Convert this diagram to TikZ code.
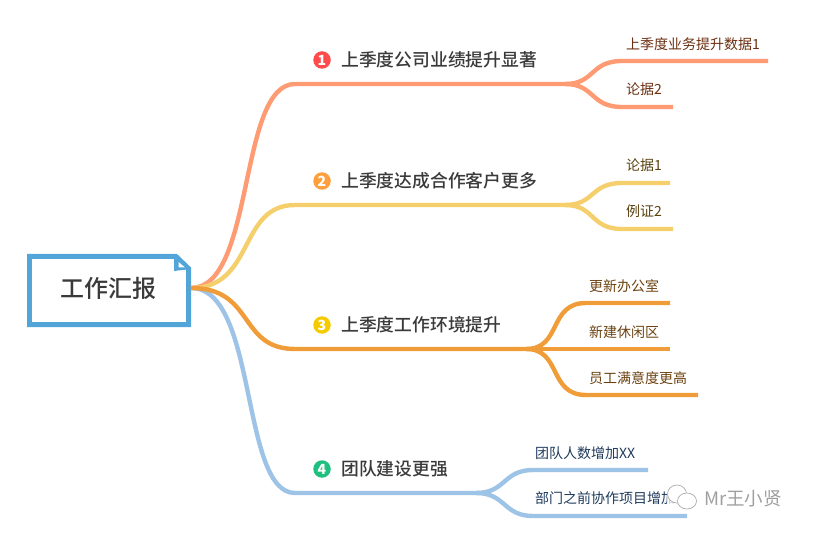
\documentclass[tikz,border=0pt]{standalone}
\usepackage{fontspec}
\setmainfont{Noto Sans CJK SC}
\newfontfamily\medfont{Noto Sans CJK SC Medium}
\usetikzlibrary{positioning}
\definecolor{cA}{HTML}{FF9B73}
\definecolor{cB}{HTML}{F5CF6B}
\definecolor{cC}{HTML}{F09C38}
\definecolor{cD}{HTML}{9DC3E6}
\definecolor{frameblue}{HTML}{52A5D8}
\definecolor{ink}{HTML}{3A3A3A}
\definecolor{leafA}{HTML}{6B2E10}
\definecolor{leafB}{HTML}{5A4210}
\definecolor{leafC}{HTML}{6B4210}
\definecolor{leafD}{HTML}{1F3A5C}
\definecolor{badgeA}{HTML}{FF4B4B}
\definecolor{badgeB}{HTML}{FF9F3B}
\definecolor{badgeC}{HTML}{F5CB00}
\definecolor{badgeD}{HTML}{1FBF7F}
\tikzset{
  x=1bp,y=-1bp,
  branch/.style={line width=4.4bp,line cap=butt},
  topiclabel/.style={font=\medfont\fontsize{17.8bp}{20bp}\selectfont,text=ink,anchor=west,inner sep=0pt},
  leaf/.style={font=\fontsize{14bp}{16bp}\selectfont,anchor=west,inner sep=0pt},
  badge/.style={circle,minimum size=17.5bp,inner sep=0pt,text=white,font=\fontsize{14bp}{14bp}\selectfont\bfseries},
}
\begin{document}
\begin{tikzpicture}
\useasboundingbox (0,0) rectangle (813,534);
% root
\draw[frameblue,line width=4.8bp,line join=miter] (29.4,256.4) -- (176,256.4) -- (188.6,268.5) -- (188.6,324.6) -- (29.4,324.6) -- cycle;
\node[minimum width=163bp,minimum height=73bp,inner sep=0pt,font=\medfont\fontsize{24bp}{26bp}\selectfont,text=ink] (root) at (108.5,288) {工作汇报};
\fill[frameblue] (174,254) -- (191,269) -- (174,271) -- cycle;
\fill[white] (178.5,262) -- (185,267.5) -- (178.5,267.5) -- cycle;
% anchors
\coordinate (s) at (191,288);
\coordinate (a) at (295,84);   \coordinate (af) at (565,84);
\coordinate (a1) at (622,61);  \coordinate (a1e) at (768,61);
\coordinate (a2) at (622,107); \coordinate (a2e) at (673,107);
\coordinate (b) at (295,205);  \coordinate (bf) at (565,205);
\coordinate (b1) at (622,183); \coordinate (b1e) at (670,183);
\coordinate (b2) at (622,229); \coordinate (b2e) at (673,229);
\coordinate (c) at (295,349);  \coordinate (cf) at (526,349);
\coordinate (c1) at (586,303); \coordinate (c1e) at (670,303);
\coordinate (c2e) at (670,349);
\coordinate (c3) at (586,395); \coordinate (c3e) at (698,395);
\coordinate (d) at (295,493);  \coordinate (df) at (476,493);
\coordinate (d1) at (533,470); \coordinate (d1e) at (648,470);
\coordinate (d2) at (533,516); \coordinate (d2e) at (687,516);
% branches
\draw[branch,cA] (s) .. controls (255,288) and (238,84) .. (a) -- (af);
\draw[branch,cA] (af) .. controls (595,84) and (590,61) .. (a1) -- (a1e);
\draw[branch,cA] (af) .. controls (595,84) and (590,107) .. (a2) -- (a2e);
\draw[branch,cB] (s) .. controls (255,288) and (238,205) .. (b) -- (bf);
\draw[branch,cB] (bf) .. controls (595,205) and (590,183) .. (b1) -- (b1e);
\draw[branch,cB] (bf) .. controls (595,205) and (590,229) .. (b2) -- (b2e);
\draw[branch,cD] (s) .. controls (258,288) and (240,493) .. (d) -- (df);
\draw[branch,cD] (df) .. controls (506,493) and (503,470) .. (d1) -- (d1e);
\draw[branch,cD] (df) .. controls (506,493) and (503,516) .. (d2) -- (d2e);
\draw[branch,cC] (s) .. controls (255,288) and (238,349) .. (c) -- (cf);
\draw[branch,cC] (cf) .. controls (562,349) and (548,303) .. (c1) -- (c1e);
\draw[branch,cC] (cf) -- (c2e);
\draw[branch,cC] (cf) .. controls (562,349) and (548,395) .. (c3) -- (c3e);
% badges
\node[badge,fill=badgeA] (n1) at (322,60) {1};
\node[badge,fill=badgeB] (n2) at (322,181) {2};
\node[badge,fill=badgeC] (n3) at (322,325) {3};
\node[badge,fill=badgeD] (n4) at (322,469) {4};
% labels
\node[topiclabel] (t1) at (341,60) {上季度公司业绩提升显著};
\node[topiclabel] (t2) at (341,181) {上季度达成合作客户更多};
\node[topiclabel] (t3) at (341,325) {上季度工作环境提升};
\node[topiclabel] (t4) at (341,469) {团队建设更强};
\node[leaf,text=leafA] (l1) at (626,44.5) {上季度业务提升数据1};
\node[leaf,text=leafA] (l2) at (626,89.5) {论据2};
\node[leaf,text=leafB] (l3) at (626,165.5) {论据1};
\node[leaf,text=leafB] (l4) at (626,211.5) {例证2};
\node[leaf,text=leafC] (l5) at (589,286.5) {更新办公室};
\node[leaf,text=leafC] (l6) at (589,332.5) {新建休闲区};
\node[leaf,text=leafC] (l7) at (589,378.5) {员工满意度更高};
\node[leaf,text=leafD] (l8) at (535,453.5) {团队人数增加XX};
\node[leaf,text=leafD] (l9) at (535,498.5) {部门之前协作项目增加};
% watermark
\fill[white,opacity=.8] (667,485) rectangle (697,511);
\draw[gray!65,line width=.7bp,fill=white] (677,494) ellipse (9.5 and 9);
\draw[gray!65,line width=.7bp,fill=white] (687,501) ellipse (9.5 and 8);
\node[font=\fontsize{18.5bp}{20bp}\selectfont,text=gray!75,anchor=west,inner sep=0pt] (wm) at (704,499) {Mr王小贤};
\end{tikzpicture}
\end{document}
